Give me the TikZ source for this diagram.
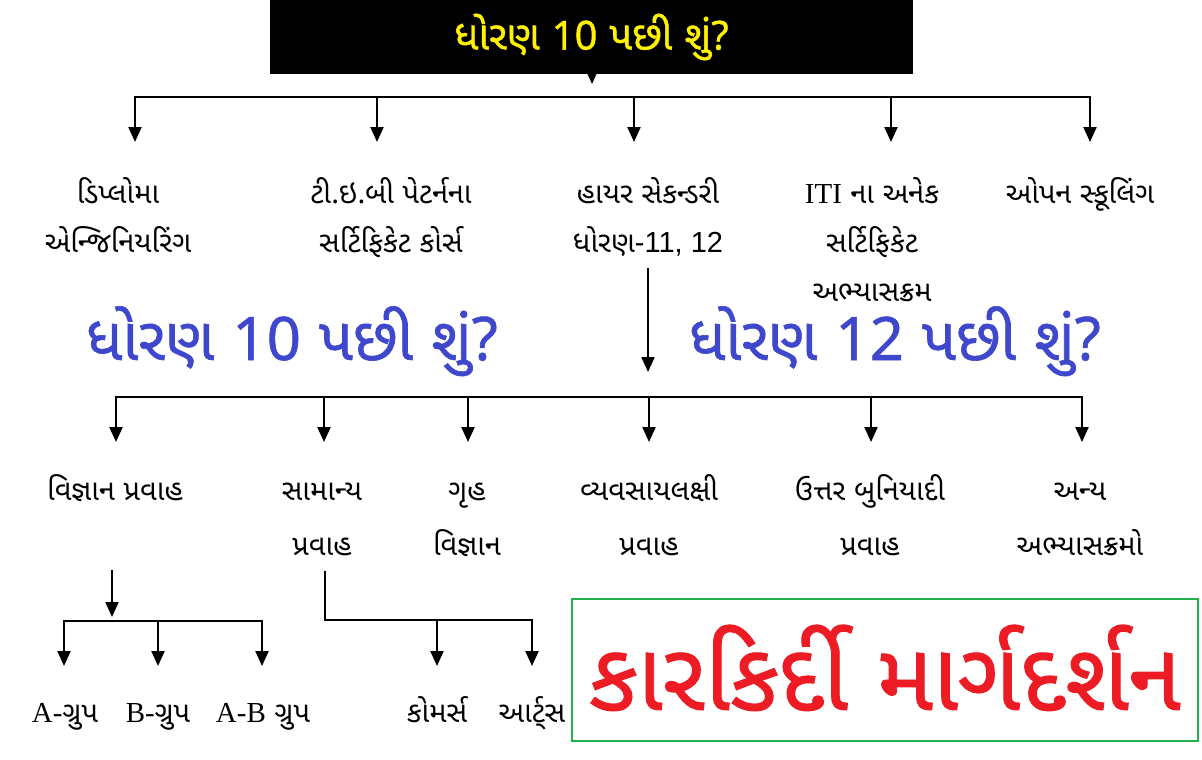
\documentclass[tikz,border=0pt]{standalone}
\usepackage{fontspec}
\usepackage{tikz}
\usetikzlibrary{arrows.meta, calc, positioning}
\newfontfamily\guj[Script=Gujarati]{Noto Sans Gujarati UI}
\newfontfamily\gujhead[Script=Gujarati, FakeBold=1]{Noto Sans Gujarati UI}
\newfontfamily\nsans{Noto Sans}
\newfontfamily\nsanshead[FakeBold=1]{Noto Sans}
\newfontfamily\lserif{Liberation Serif}
\newfontfamily\lsans{Liberation Sans}
\definecolor{titleyellow}{RGB}{255,242,0}
\definecolor{headblue}{RGB}{63,72,204}
\definecolor{bannerred}{RGB}{237,28,36}
\definecolor{bannergreen}{RGB}{34,177,76}

\begin{document}
\begin{tikzpicture}[x=1pt, y=-1pt,
		lbl/.style={align=center, anchor=base, inner sep=0pt, font=\guj\fontsize{29}{49}\selectfont},
		lbltwo/.style={lbl, font=\guj\fontsize{29}{55}\selectfont},
		head/.style={anchor=base, inner sep=0pt, text=headblue, font=\gujhead\fontsize{60}{70}\selectfont},
		drop/.style={-{Triangle[length=15pt, width=13pt]}, line width=2.2pt},
		bar/.style={line width=2.8pt, line cap=rect},
		]
	\useasboundingbox (0,0) rectangle (1202,760);

	% title
	\node[fill=black, minimum width=643pt, minimum height=74pt, inner sep=0pt, text=titleyellow,
		font=\gujhead\fontsize{40}{48}\selectfont] (ttl) at (591.5,37) {ધોરણ {\nsanshead 10} પછી શું{\nsanshead ?}};
	\coordinate (ttltip) at (592,84);
	\draw[drop] (ttl.south -| ttltip) -- (ttltip);

	% after class 10
	\coordinate (j1) at (135,97);
	\coordinate (j2) at (377,97);
	\coordinate (j3) at (634,97);
	\coordinate (j4) at (891,97);
	\coordinate (j5) at (1090,97);
	\draw[bar] (j1) -- (j5);
	\draw[drop] (j1) -- (135,142);
	\draw[drop] (j2) -- (377,142);
	\draw[drop] (j3) -- (634,142);
	\draw[drop] (j4) -- (891,142);
	\draw[drop] (j5) -- (1090,142);

	% base = last line
	\node[lbl] (dip) at (118,252) {ડિપ્લોમા\\એન્જિનિયરિંગ};
	\node[lbl] (teb) at (391,252) {ટી.ઇ.બી પેટર્નના\\સર્ટિફિકેટ કોર્સ};
	\node[lbl] (hsc) at (648,252) {હાયર સેકન્ડરી\\ધોરણ{\lsans -11, 12}};
	\node[lbl] (iti) at (872,301) {{\lserif ITI} ના અનેક\\સર્ટિફિકેટ\\અભ્યાસક્રમ};
	\node[lbl] (opn) at (1080,203) {ઓપન સ્કૂલિંગ};

	\node[head] (h10) at (292,360) {ધોરણ {\nsanshead 10} પછી શું{\nsanshead ?}};
	\node[head] (h12) at (895,360) {ધોરણ {\nsanshead 12} પછી શું{\nsanshead ?}};

	% after higher secondary
	\coordinate (hsctip) at (648,372);
	\draw[drop, shorten <=12pt] (hsc.south) -- (hsctip);
	\coordinate (k1) at (116,397);
	\coordinate (k2) at (324,397);
	\coordinate (k3) at (468,397);
	\coordinate (k4) at (649,397);
	\coordinate (k5) at (871,397);
	\coordinate (k6) at (1082,397);
	\draw[bar] (k1) -- (k6);
	\draw[drop] (k1) -- (116,442);
	\draw[drop] (k2) -- (324,442);
	\draw[drop] (k3) -- (468,442);
	\draw[drop] (k4) -- (649,442);
	\draw[drop] (k5) -- (871,442);
	\draw[drop] (k6) -- (1082,442);

	\node[lbltwo] (sci) at (115,500) {વિજ્ઞાન પ્રવાહ};
	\node[lbltwo] (sam) at (322,555) {સામાન્ય\\પ્રવાહ};
	\node[lbltwo] (gru) at (467,555) {ગૃહ\\વિજ્ઞાન};
	\node[lbltwo] (vya) at (649,555) {વ્યવસાયલક્ષી\\પ્રવાહ};
	\node[lbltwo] (utt) at (870,555) {ઉત્તર બુનિયાદી\\પ્રવાહ};
	\node[lbltwo] (any) at (1080,555) {અન્ય\\અભ્યાસક્રમો};

	% science groups
	\coordinate (scitop) at (112,570);
	\coordinate (m1) at (64,621);
	\coordinate (m2) at (158,621);
	\coordinate (m3) at (262,621);
	\draw[drop] (scitop) -- (112,617);
	\draw[bar] (m1) -- (m3);
	\draw[drop] (m1) -- (64,666);
	\draw[drop] (m2) -- (158,666);
	\draw[drop] (m3) -- (262,666);
	\node[lbl] (gra) at (65,722) {{\lserif A-}ગ્રુપ};
	\node[lbl] (grb) at (158,722) {{\lserif B-}ગ્રુપ};
	\node[lbl] (grab) at (263,722) {{\lserif A-B} ગ્રુપ};

	% general stream
	\coordinate (samdn) at (325,572);
	\coordinate (n1) at (437,620);
	\coordinate (n2) at (532,620);
	\draw[bar] (samdn) |- (n2);
	\draw[drop] (n1) -- (437,666);
	\draw[drop] (n2) -- (532,666);
	\node[lbl] (com) at (437,722) {કોમર્સ};
	\node[lbl] (art) at (532,722) {આર્ટ્સ};

	% banner
	\node[draw=bannergreen, line width=2.5pt, minimum width=626pt, minimum height=142pt, inner sep=0pt] (ban) at (885,670) {};
	\node[anchor=base, inner sep=0pt, text=bannerred, font=\gujhead\fontsize{95}{105}\selectfont] (car) at (885,710) {કારકિર્દી માર્ગદર્શન};
\end{tikzpicture}
\end{document}
